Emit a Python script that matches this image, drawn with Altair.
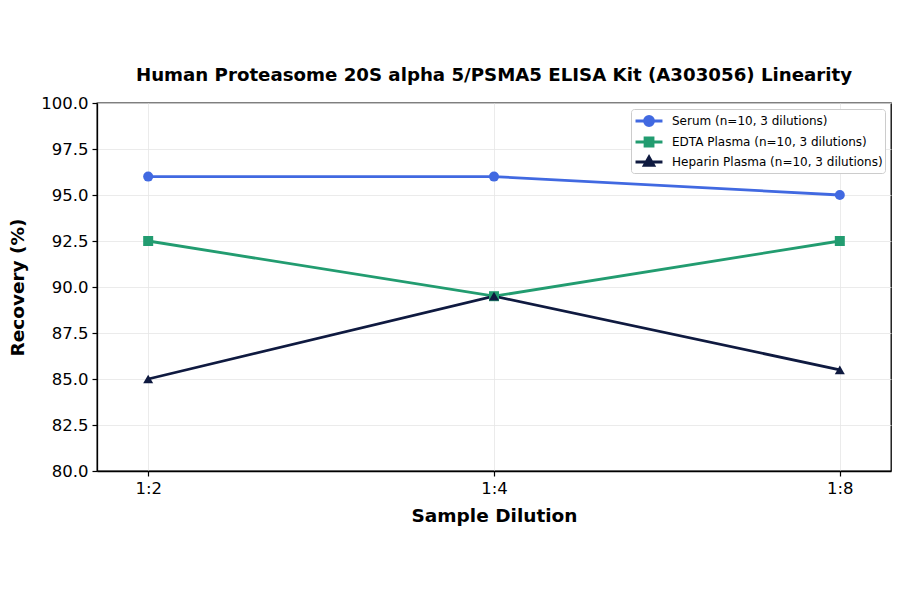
import altair as alt
import pandas as pd

dilutions = ["1:2", "1:4", "1:8"]
series_names = [
    "Serum (n=10, 3 dilutions)",
    "EDTA Plasma (n=10, 3 dilutions)",
    "Heparin Plasma (n=10, 3 dilutions)",
]
serum = [96.0, 96.0, 95.0]
edta_plasma = [92.5, 89.5, 92.5]
heparin_plasma = [85.0, 89.5, 85.5]
y_ticks = [80.0, 82.5, 85.0, 87.5, 90.0, 92.5, 95.0, 97.5, 100.0]

colors = ["#4169E1", "#229C70", "#0F1A40"]
marker_shapes = ["circle", "square", "triangle-up"]
# legend symbols: a line stub with the marker on top, like matplotlib
legend_shapes = [
    "M-0.88,0L2.29,0M1.24,0A0.53,0.53,0,1,1,0.18,0A0.53,0.53,0,1,1,1.24,0Z",
    "M-0.88,0L2.29,0M0.24,-0.47L1.18,-0.47L1.18,0.47L0.24,0.47Z",
    "M-0.88,0L2.29,0M0.71,-0.6L1.27,0.4L0.15,0.4Z",
]

rows = []
for name, values in zip(series_names, [serum, edta_plasma, heparin_plasma]):
    for d, v in zip(dilutions, values):
        rows.append({"Dilution": d, "Recovery": v, "Series": name})
data = pd.DataFrame(rows)

FONT = "DejaVu Sans"

x_enc = alt.X(
    "Dilution:N",
    sort=dilutions,
    scale=alt.Scale(type="point", padding=0.148),
    title="Sample Dilution",
    axis=alt.Axis(labelAngle=0, grid=True, titlePadding=10, labelPadding=4),
)
y_enc = alt.Y(
    "Recovery:Q",
    scale=alt.Scale(domain=[80, 100], nice=False, zero=False),
    title="Recovery (%)",
    axis=alt.Axis(values=y_ticks, format=".1f", titlePadding=13, labelPadding=4),
)


def color_scale():
    return alt.Scale(domain=series_names, range=colors)


base = alt.Chart(data)

lines = base.mark_line(strokeWidth=2.8).encode(
    x=x_enc,
    y=y_enc,
    color=alt.Color("Series:N", scale=color_scale(), legend=None),
    detail="Series:N",
)

points = base.mark_point(filled=True, size=100, opacity=1).encode(
    x=x_enc,
    y=y_enc,
    color=alt.Color("Series:N", scale=color_scale(), legend=None),
    shape=alt.Shape(
        "Series:N",
        scale=alt.Scale(domain=series_names, range=marker_shapes),
        legend=None,
    ),
)

legend_layer = (
    base.transform_filter("false")
    .mark_point(filled=True, opacity=1, strokeWidth=2.8)
    .encode(
        x=x_enc,
        y=y_enc,
        color=alt.Color(
            "Series:N",
            scale=color_scale(),
            legend=alt.Legend(
                title=None,
                orient="top-right",
                offset=6,
                symbolSize=289,
                symbolStrokeWidth=2.8,
                labelFont=FONT,
                labelFontSize=12,
                labelColor="#000000",
                labelLimit=0,
                labelOffset=19,
                rowPadding=-6,
                padding=2,
                strokeColor="#cccccc",
                fillColor="#ffffff",
                cornerRadius=3,
            ),
        ),
        stroke=alt.Stroke("Series:N", scale=color_scale()),
        shape=alt.Shape(
            "Series:N",
            scale=alt.Scale(domain=series_names, range=legend_shapes),
        ),
    )
)

chart = (
    alt.layer(lines, points, legend_layer)
    .resolve_scale(color="independent", shape="independent", stroke="independent")
    .properties(
        width=794,
        height=368,
        autosize=alt.AutoSizeParams(type="none"),
        padding={"left": 89, "top": 95, "right": 1, "bottom": 115},
        title=alt.Title(
            "Human Proteasome 20S alpha 5/PSMA5 ELISA Kit (A303056) Linearity",
            font=FONT,
            fontSize=18.2,
            fontWeight="bold",
            color="#000000",
            offset=10,
            anchor="middle",
        ),
    )
    .configure_view(stroke="#000000", strokeWidth=1.3)
    .configure_axis(
        labelFont=FONT,
        labelFontSize=16.5,
        labelColor="#000000",
        titleFont=FONT,
        titleFontSize=18.5,
        titleFontWeight="bold",
        titleColor="#000000",
        domainColor="#000000",
        domainWidth=1.3,
        tickColor="#000000",
        tickSize=5,
        tickWidth=1.2,
        gridColor="#e6e6e6",
        gridWidth=0.8,
    )
)

chart.save("out.html", embed_options={"renderer": "svg", "actions": False})
